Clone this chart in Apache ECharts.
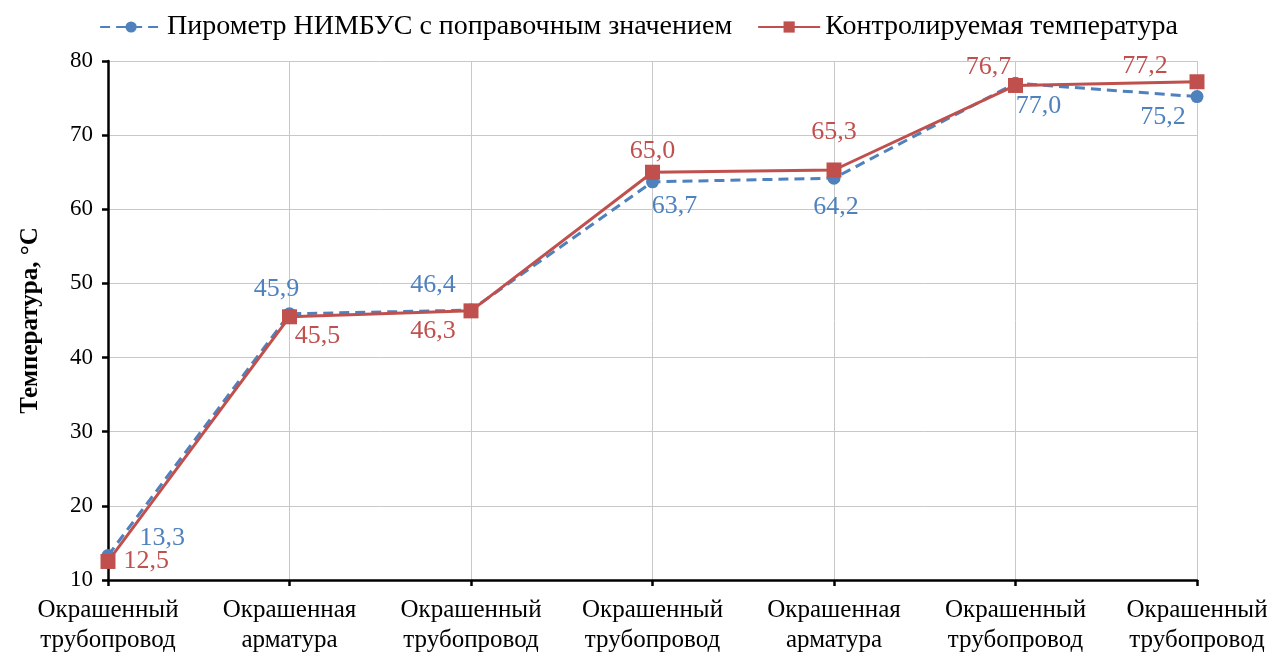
<!DOCTYPE html>
<html>
<head>
<meta charset="utf-8">
<script src="https://cdn.jsdelivr.net/npm/echarts@6/dist/echarts.min.js"></script>
<style>
    html, body { margin: 0; padding: 0; background: #fff; }
    #chart { width: 1277px; height: 659px; }
</style>
</head>
<body>
<div id="chart"></div>
<script>
var categories = [
    'Окрашенный\nтрубопровод', 'Окрашенная\nарматура', 'Окрашенный\nтрубопровод',
    'Окрашенный\nтрубопровод', 'Окрашенная\nарматура', 'Окрашенный\nтрубопровод',
    'Окрашенный\nтрубопровод'
];
var pyrometer = [13.3, 45.9, 46.4, 63.7, 64.2, 77.0, 75.2];
var controlled = [12.5, 45.5, 46.3, 65.0, 65.3, 76.7, 77.2];
var seriesNames = ['Пирометр НИМБУС с поправочным значением', 'Контролируемая температура'];

var blue = '#4F81BD';
var red = '#C0504D';
var font = '"Liberation Serif", "Times New Roman", serif';

// где ставить подписи у каждой точки
var bluePos = [
    ['right', [20, -17]], ['top', [-13, 0]], ['top', [-38, 0]], ['bottom', [22, 0]],
    ['bottom', [2, 5]], ['bottom', [23, -2]], ['bottom', [-34, -4]]
];
var redPos = [
    ['right', [3, 0]], ['bottom', [28, -6]], ['bottom', [-38, -5]], ['top', [0, 4]],
    ['top', [0, -12]], ['top', [-27, 7]], ['top', [-52, 10]]
];

function withLabels(values, pos) {
    return values.map(function (v, i) {
        return {
            value: v,
            label: { position: pos[i][0], offset: pos[i][1] }
        };
    });
}

var fmt = function (p) { return p.value.toFixed(1).replace('.', ','); };

var myChart = echarts.init(document.getElementById('chart'));
myChart.setOption({
    animation: false,
    textStyle: { fontFamily: font },
    legend: {
        top: 8,
        left: 'center',
        itemWidth: 62,
        itemHeight: 14,
        itemGap: 25,
        textStyle: { fontFamily: font, fontSize: 28, color: '#000' },
        data: seriesNames
    },
    grid: { left: 108, right: 80, top: 61, bottom: 79 },
    xAxis: {
        type: 'category',
        data: categories,
        boundaryGap: false,
        axisLine: { lineStyle: { color: '#000', width: 2.5 } },
        axisTick: { show: true, interval: 0, length: 6, lineStyle: { color: '#000', width: 2.5 } },
        axisLabel: {
            interval: 0, hideOverlap: false,
            fontFamily: font, fontSize: 25, color: '#000', lineHeight: 30, margin: 15
        },
        splitLine: { show: true, interval: 0, lineStyle: { color: '#c8c8c8', width: 1 } }
    },
    yAxis: {
        type: 'value',
        min: 10,
        max: 80,
        interval: 10,
        name: 'Температура, °C',
        nameLocation: 'middle',
        nameRotate: 90,
        nameGap: 65,
        nameTextStyle: { fontFamily: font, fontSize: 25, fontWeight: 'bold', color: '#000' },
        axisLine: { show: true, lineStyle: { color: '#000', width: 2.5 } },
        axisTick: { show: true, length: 6, lineStyle: { color: '#000', width: 2.5 } },
        axisLabel: { fontFamily: font, fontSize: 23, color: '#000', margin: 15 },
        splitLine: { lineStyle: { color: '#c8c8c8', width: 1 } }
    },
    series: [
        {
            name: seriesNames[0],
            type: 'line',
            data: withLabels(pyrometer, bluePos),
            symbol: 'circle',
            symbolSize: 13,
            lineStyle: { color: blue, width: 3, type: [10, 6] },
            itemStyle: { color: blue },
            label: { show: true, formatter: fmt, fontFamily: font, fontSize: 26, color: blue },
            z: 2
        },
        {
            name: seriesNames[1],
            type: 'line',
            data: withLabels(controlled, redPos),
            symbol: 'rect',
            symbolSize: 15,
            lineStyle: { color: red, width: 3 },
            itemStyle: { color: red },
            label: { show: true, formatter: fmt, fontFamily: font, fontSize: 26, color: red },
            z: 3
        }
    ]
});
</script>
</body>
</html>
